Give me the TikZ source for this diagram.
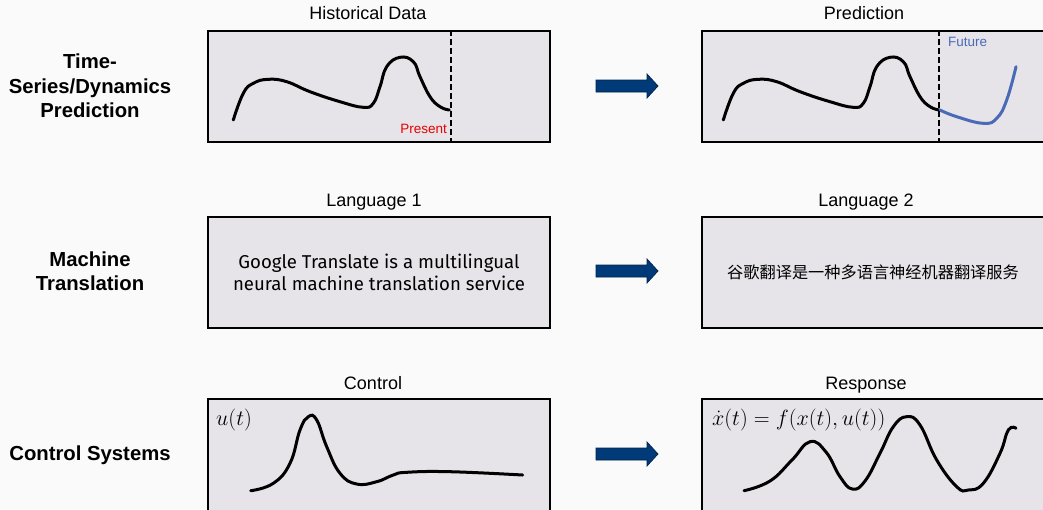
\documentclass[tikz,border=0pt]{standalone}
\usepackage{fix-cm}
\usepackage[no-math]{fontspec}
\setmainfont{Liberation Sans}
\newfontfamily\firafont{Fira Sans}
\newfontfamily\cjk{Noto Sans CJK SC}
\usetikzlibrary{positioning}

\definecolor{pagebg}{RGB}{250,250,250}
\definecolor{panelgray}{RGB}{230,228,232}
\definecolor{arrowblue}{RGB}{0,58,120}
\definecolor{futureblue}{RGB}{74,106,184}
\definecolor{presentred}{RGB}{230,0,0}

\tikzset{
    panel/.style={draw,line width=2pt,fill=panelgray,minimum width=342pt,
        minimum height=111pt,inner sep=0pt,anchor=north west,align=center},
    title/.style={anchor=base,font=\fontsize{18}{21}\selectfont},
    rowlabel/.style={align=center,font=\bfseries\fontsize{20.3}{24.5}\selectfont},
    signal/.style={line width=3pt,line cap=round,smooth,tension=0.75},
    bigarrow/.style={fill=arrowblue,draw=arrowblue!60!black,line width=0.7pt}
}

\begin{document}
\begin{tikzpicture}[x=1pt,y=-1pt]
    \clip (0,0) rectangle (1043,509);
    \fill[pagebg] (0,0) rectangle (1043,509);

    % row labels
    \node[rowlabel] (rowA) at (90,86) {Time-\\Series/Dynamics\\Prediction};
    \node[rowlabel] (rowB) at (90,271) {Machine\\Translation};
    \node[rowlabel] (rowC) at (90,455) {Control Systems};

    % panels
    \node[panel] (hist) at (207,30) {};
    \node[panel] (pred) at (701,30) {};
    \node[panel,font=\firafont\fontsize{18.6}{21.5}\selectfont] (lang1) at (207,216)
        {Google Translate is a multilingual\\neural machine translation service};
    \node[panel,font=\cjk\fontsize{16.2}{20}\selectfont] (lang2) at (701,216)
        {谷歌翻译是一种多语言神经机器翻译服务};
    \node[panel,minimum height=130pt] (ctrl) at (207,398) {};
    \node[panel,minimum height=130pt] (resp) at (701,398) {};

    % titles
    \node[title] (histT) at (368,19) {Historical Data};
    \node[title] (predT) at (864,19) {Prediction};
    \node[title] (lang1T) at (374,206) {Language 1};
    \node[title] (lang2T) at (866,206) {Language 2};
    \node[title] (ctrlT) at (373,389) {Control};
    \node[title] (respT) at (866,389) {Response};

    % arrows
    \foreach \y in {86,271,454}
        \draw[bigarrow] (596,\y-6) -- (647,\y-6) -- (647,\y-12) -- (658,\y)
            -- (647,\y+12) -- (647,\y+6) -- (596,\y+6) -- cycle;

    % time series
    \foreach \dx in {0,490}
        \draw[signal,xshift=\dx pt] plot coordinates {(233.3,120) (243.3,93.3)
            (253.3,83.3) (268.3,79.3) (286.7,81.7) (310,91.7) (340,101.7)
            (363.3,107.3) (373.3,103.3) (380,86.7) (386.7,66.7) (400,57.3)
            (413.3,61.7) (420,76.7) (430,96.7) (440,106.7) (449.3,110)};
    \draw[signal,futureblue] plot coordinates {(940,110) (956.7,116.7)
        (983.3,123.3) (996.7,118.3) (1006.7,100) (1016,66.7)};
    \coordinate (nowA) at (451,30);
    \coordinate (nowB) at (939,30);
    \draw[line width=2pt,dash pattern=on 6pt off 3pt] (nowA) -- ++(0,111);
    \draw[line width=2pt,dash pattern=on 6pt off 3pt] (nowB) -- ++(0,111);
    \node[anchor=base east,text=presentred,font=\fontsize{13.5}{16}\selectfont,
        inner sep=0pt] (present) at (447,133.5) {Present};
    \node[anchor=base west,text=futureblue,font=\fontsize{13.5}{16}\selectfont,
        inner sep=0pt] (future) at (948,46.5) {Future};

    % control
    \draw[signal] plot coordinates {(250.7,490.7) (273.3,483.3) (290,463.3)
        (300,430) (308.3,416.7) (316.7,420) (326.7,446.7) (340,473.3)
        (356.7,484) (376.7,481.7) (393.3,475) (406.7,472.3) (450,471.7)
        (522.7,475)};
    \draw[signal] plot coordinates {(744,490.7) (770,481) (792,460)
        (810,441.7) (826,452) (840,476.7) (852.3,489) (865,481)
        (880,453.3) (893.3,426.7) (906.7,416.7) (920,425) (936.7,460)
        (956.7,486.7) (968.3,490) (983.3,483.3) (1000,453.3) (1008.3,430)
        (1016,428.3)};
    \node[anchor=base west,inner sep=0pt,font=\fontsize{22}{26}\selectfont]
        (uEq) at (216,425) {$u(t)$};
    \node[anchor=base west,inner sep=0pt,font=\fontsize{22}{26}\selectfont]
        (xEq) at (712,425) {$\dot{x}(t)=f(x(t),u(t))$};
\end{tikzpicture}
\end{document}
